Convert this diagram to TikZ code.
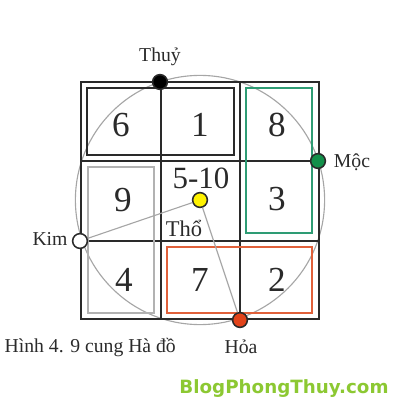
\documentclass[tikz,border=0pt]{standalone}
\usepackage{fontspec}
\setmainfont{Liberation Serif}
\newfontfamily\markfont{DejaVu Sans}

\definecolor{gridline}{HTML}{2A2A2A}
\definecolor{mocgreen}{HTML}{12904A}
\definecolor{mocrect}{HTML}{2E9C74}
\definecolor{hoared}{HTML}{E2431A}
\definecolor{hoarect}{HTML}{E0603A}
\definecolor{thoyellow}{HTML}{FFF200}
\definecolor{markgreen}{HTML}{8CC832}

\tikzset{every path/.style={line width=1 pt}}
\tikzset{
  dot/.style={circle, draw=gridline, line width=1.1pt, inner sep=0pt, minimum size=10.5pt},
  num/.style={font=\fontsize{25}{25}\selectfont, text=gridline},
  lbl/.style={font=\fontsize{14}{14}\selectfont, text=gridline, anchor=base}
}

\begin{document}
\begin{tikzpicture}[x=0.025cm, y=-0.025cm]
\useasboundingbox (0,0) rectangle (400,400);
% hoops and grid
\draw[gray!70, line width=0.8pt] (200,200) circle[radius=124.6];
\draw[gridline, line width=1.6pt] (81,82) rectangle (319,319);
\draw[gridline, line width=1.6pt] (161,82) -- (161,319);
\draw[gridline, line width=1.6pt] (240,82) -- (240,319);
\draw[gridline, line width=1.6pt] (81,161) -- (319,161);
\draw[gridline, line width=1.6pt] (81,241) -- (319,241);
% the four frames
\draw[gridline, line width=1.6pt] (87,88) rectangle (234,155);
\draw[gray!60, line width=1.2pt] (88,167) rectangle (154,313);
\draw[mocrect, line width=1.2pt] (246,88) rectangle (312,233);
\draw[hoarect, line width=1.2pt] (167,247) rectangle (312,313);
% numbers
\node[num] (n6) at (121,125) {6};
\node[num] (n1) at (200,125) {1};
\node[num] (n8) at (277,125) {8};
\node[num] (n9) at (123,200) {9};
\node[num] (n3) at (277,199) {3};
\node[num] (n4) at (124,280) {4};
\node[num] (n7) at (200,280) {7};
\node[num] (n2) at (277,280) {2};
\node[num, font=\fontsize{22}{22}\selectfont] (n510) at (201,178) {5-10};
% dots
\node[dot, fill=thoyellow] (tho) at (200,200) {};
\node[dot, fill=black] (thuy) at (160,82) {};
\node[dot, fill=mocgreen] (moc) at (318,161) {};
\node[dot, fill=white] (kim) at (80,241) {};
\node[dot, fill=hoared] (hoa) at (240,320) {};
\draw[gray!70, line width=0.8pt] (kim) -- (tho) -- (hoa);
% labels
\node[lbl] (lthuy) at (160,62) {Thuỷ};
\node[lbl] (lmoc) at (352,167) {Mộc};
\node[lbl] (lkim) at (50,245) {Kim};
\node[lbl] (lhoa) at (241,353) {Hỏa};
\node[lbl, font=\fontsize{16}{16}\selectfont] (ltho) at (184,236) {Thổ};
\node[lbl, anchor=base west, inner sep=0pt] (cap) at (4,352) {Hình 4. 9 cung Hà đồ};
\node[anchor=base, font=\markfont\bfseries\fontsize{13}{13}\selectfont, text=markgreen] (mark) at (284,393) {BlogPhongThuy.com};
\end{tikzpicture}
\end{document}
